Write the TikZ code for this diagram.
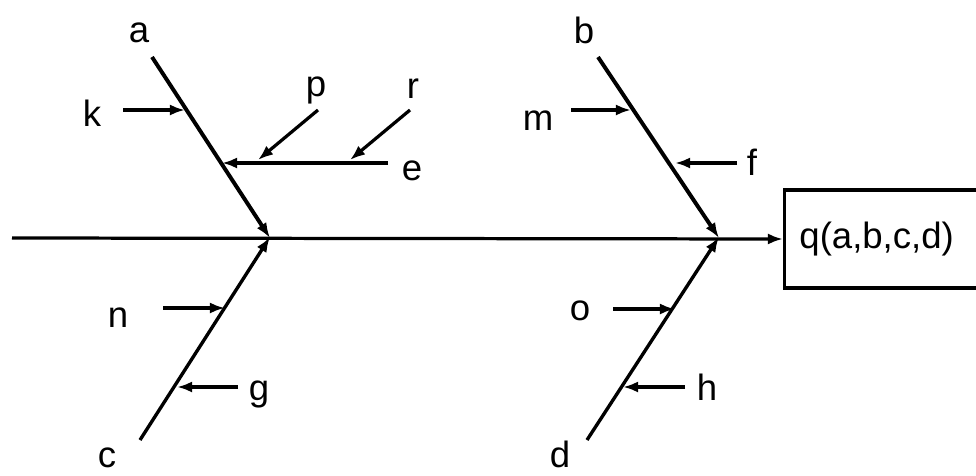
\documentclass[tikz,border=0pt]{standalone}
\usepackage{fontspec}
\setmainfont{Liberation Sans}
\usetikzlibrary{positioning, arrows.meta}

\begin{document}
\begin{tikzpicture}[x=0.025cm, y=-0.025cm, bone/.style={line width=2.8pt, -{Latex[length=0.38cm, width=0.28cm]}}, rib/.style={line width=2.3pt, -{Latex[length=0.38cm, width=0.28cm]}}, lbl/.style={font=\fontsize{26}{30}\selectfont, inner sep=0pt, anchor=base}, res/.style={draw, line width=2.3pt, anchor=west, minimum height=2.45cm, text width=6cm, inner xsep=0.37cm, align=left, font=\fontsize{26}{30}\selectfont}]
\clip (0,0) rectangle (976,475);
% head of the diagram
\node[res] (q) at (783,239) {q(a,b,c,d)};
\coordinate (tail) at (12,238); \coordinate (hA) at (270,238); \coordinate (hB) at (719,238);
\draw[rib] (tail) -- (q.west);
% upper bones
\coordinate (a0) at (152,57); \coordinate (b0) at (598,57);
\draw[bone] (a0) -- (hA); \draw[bone] (b0) -- (hB);
% lower bones
\coordinate (c0) at (140,440); \coordinate (d0) at (587,440);
\draw[bone, line width=2.4pt] (c0) -- (270,237); \draw[bone, line width=2.4pt] (d0) -- (719,237);
% causes on a
\coordinate (k0) at (123,110); \coordinate (kA) at (185,110);
\coordinate (e0) at (388,163); \coordinate (eA) at (222,163);
\coordinate (p0) at (318,110); \coordinate (pE) at (258,160);
\coordinate (r0) at (410,110); \coordinate (rE) at (350,160);
\draw[rib] (k0) -- (kA); \draw[rib, line width=2.8pt] (e0) -- (eA);
\draw[rib] (p0) -- (pE); \draw[rib] (r0) -- (rE);
% causes on b
\coordinate (m0) at (571,110); \coordinate (mB) at (631,110);
\coordinate (f0) at (737,163); \coordinate (fB) at (675,163);
\draw[rib] (m0) -- (mB); \draw[rib, line width=2.8pt] (f0) -- (fB);
% causes on c and d
\coordinate (n0) at (163,308); \coordinate (nC) at (225,308);
\coordinate (g0) at (238,387); \coordinate (gC) at (177,387);
\coordinate (o0) at (613,309); \coordinate (oD) at (675,309);
\coordinate (h0) at (685,387); \coordinate (hD) at (623,387);
\draw[rib] (n0) -- (nC); \draw[rib] (g0) -- (gC);
\draw[rib] (o0) -- (oD); \draw[rib] (h0) -- (hD);
% labels
\node[lbl] (la) at (139,42) {a}; \node[lbl] (lb) at (584,43) {b};
\node[lbl] (lc) at (107,467) {c}; \node[lbl] (ld) at (560,467) {d};
\node[lbl] (lk) at (92,126) {k}; \node[lbl] (lp) at (316,96) {p};
\node[lbl] (lr) at (413,98) {r}; \node[lbl] (le) at (412,180) {e};
\node[lbl] (lm) at (538,130) {m}; \node[lbl] (lf) at (752,175) {f};
\node[lbl] (ln) at (118,327) {n}; \node[lbl] (lg) at (259,400) {g};
\node[lbl] (lo) at (580,320) {o}; \node[lbl] (lh) at (707,400) {h};
\end{tikzpicture}
\end{document}
